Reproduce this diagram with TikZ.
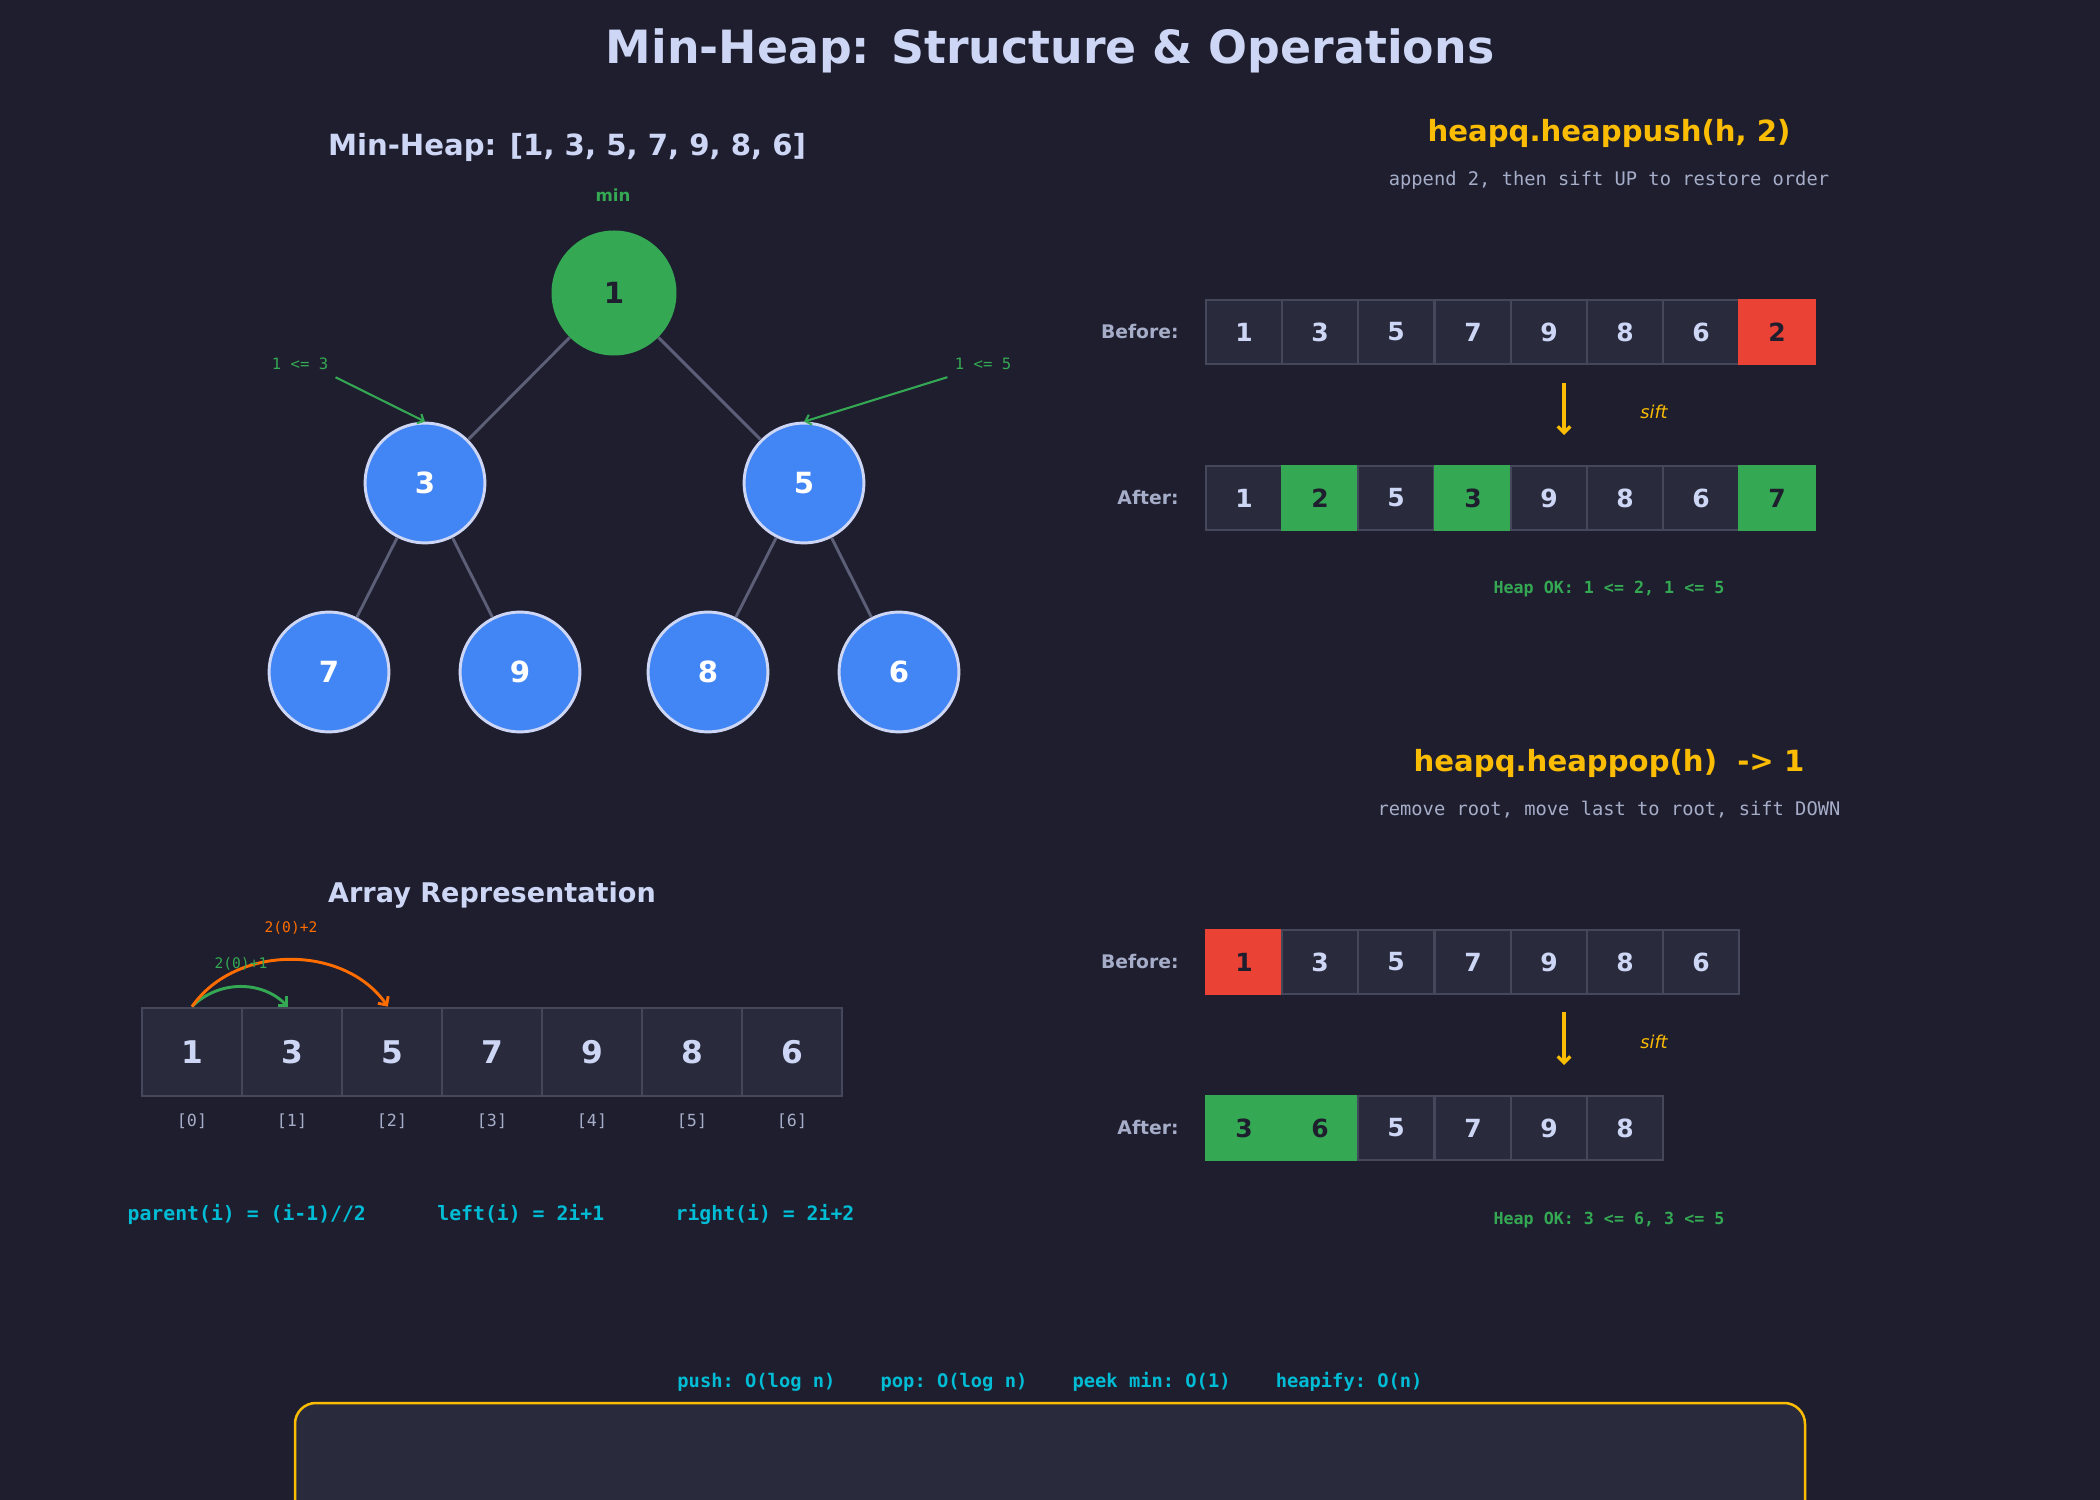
\documentclass[tikz,border=0pt]{standalone}
\usepackage{fontspec}
\setmainfont{DejaVu Sans}
\setmonofont{DejaVu Sans Mono}
\usepackage{tikz}
\usetikzlibrary{arrows.meta}
\definecolor{base}{HTML}{1E1E2E}
\definecolor{panel}{HTML}{292A3C}
\definecolor{rim}{HTML}{45475A}
\definecolor{ink}{HTML}{CDD6F4}
\definecolor{muted}{HTML}{A6ADC8}
\definecolor{wire}{HTML}{5C5F77}
\definecolor{success}{HTML}{34A853}
\definecolor{danger}{HTML}{EA4335}
\definecolor{accent}{HTML}{FBBC04}
\definecolor{info}{HTML}{00BCD4}
\definecolor{heapblue}{HTML}{4285F4}
\definecolor{orange}{HTML}{FF6D00}

\tikzset{
  rootnode/.style={circle, fill=success, minimum size=60pt, inner sep=0pt, text=base, font=\fontsize{14}{17}\selectfont\bfseries},
  heapnode/.style={circle, fill=heapblue, draw=ink, line width=1.4pt, minimum size=57.5pt, inner sep=0pt, text=white, font=\fontsize{14}{17}\selectfont\bfseries},
  treeedge/.style={draw=wire, line width=1.4pt},
  cell/.style={draw=rim, fill=panel, line width=1.1pt, minimum width=48pt, minimum height=42.5pt, inner sep=0pt, text=ink, font=\fontsize{15}{18}\selectfont\bfseries},
  opcell/.style={cell, minimum width=36.5pt, minimum height=30.7pt, font=\fontsize{12}{14}\selectfont\bfseries},
  hilite/.style={fill=success, draw=success, text=base},
  evict/.style={fill=danger, draw=danger, text=base},
  rowlabel/.style={anchor=east, inner sep=0pt, text=muted, font=\fontsize{9}{11}\selectfont\bfseries},
  optitle/.style={text=accent, font=\fontsize{14}{17}\selectfont\bfseries},
  opnote/.style={text=muted, font=\ttfamily\fontsize{9}{11}\selectfont},
  okline/.style={text=success, font=\ttfamily\bfseries\fontsize{8}{10}\selectfont},
  siftarrow/.style={draw=accent, line width=1.6pt, -{Straight Barb[length=3pt, width=6pt]}},
  sifttext/.style={text=accent, font=\itshape\fontsize{8.5}{10}\selectfont},
}

\begin{document}
\begin{tikzpicture}[x=0.48pt, y=-0.48pt]
\fill[base] (0,0) rectangle (2100,1500);
\useasboundingbox (0,0) rectangle (2100,1500);
\clip (0,0) rectangle (2100,1500);
% Title
\node[text=ink, font=\fontsize{22}{26}\selectfont\bfseries] (title) at (1050,51) {Min-Heap: Structure \& Operations};
%
% Tree view
\node[text=ink, font=\fontsize{14}{17}\selectfont\bfseries] (treetitle) at (567,147) {Min-Heap: [1, 3, 5, 7, 9, 8, 6]};
\node[text=success, font=\fontsize{8}{10}\selectfont\bfseries] (minlbl) at (613,195) {min};
\node[rootnode] (n1) at (614,293) {1};
\node[heapnode] (n3) at (425,483) {3};
\node[heapnode] (n5) at (804,483) {5};
\node[heapnode] (n7) at (329,672) {7};
\node[heapnode] (n9) at (520,672) {9};
\node[heapnode] (n8) at (708,672) {8};
\node[heapnode] (n6) at (899,672) {6};
\draw[treeedge] (n1) -- (n3);
\draw[treeedge] (n1) -- (n5);
\draw[treeedge] (n3) -- (n7);
\draw[treeedge] (n3) -- (n9);
\draw[treeedge] (n5) -- (n8);
\draw[treeedge] (n5) -- (n6);
\node[text=success, font=\ttfamily\fontsize{7.5}{9}\selectfont] (cmpl) at (300,364) {1 <= 3};
\node[text=success, font=\ttfamily\fontsize{7.5}{9}\selectfont] (cmpr) at (983,364) {1 <= 5};
\draw[success, line width=1pt, -{Straight Barb[length=2.5pt, width=5pt]}] (cmpl.south east) -- (n3.north);
\draw[success, line width=1pt, -{Straight Barb[length=2.5pt, width=5pt]}] (cmpr.south west) -- (n5.north);
%
% Array view
\node[text=ink, font=\fontsize{13}{16}\selectfont\bfseries] (arrtitle) at (492,895) {Array Representation};
\node[cell] (a0) at (192,1052) {1};
\node[cell] (a1) at (292,1052) {3};
\node[cell] (a2) at (392,1052) {5};
\node[cell] (a3) at (492,1052) {7};
\node[cell] (a4) at (592,1052) {9};
\node[cell] (a5) at (692,1052) {8};
\node[cell] (a6) at (792,1052) {6};
\node[text=muted, font=\ttfamily\fontsize{8}{10}\selectfont] (i0) at (192,1121) {[0]};
\node[text=muted, font=\ttfamily\fontsize{8}{10}\selectfont] (i1) at (292,1121) {[1]};
\node[text=muted, font=\ttfamily\fontsize{8}{10}\selectfont] (i2) at (392,1121) {[2]};
\node[text=muted, font=\ttfamily\fontsize{8}{10}\selectfont] (i3) at (492,1121) {[3]};
\node[text=muted, font=\ttfamily\fontsize{8}{10}\selectfont] (i4) at (592,1121) {[4]};
\node[text=muted, font=\ttfamily\fontsize{8}{10}\selectfont] (i5) at (692,1121) {[5]};
\node[text=muted, font=\ttfamily\fontsize{8}{10}\selectfont] (i6) at (792,1121) {[6]};
\draw[success, line width=1.4pt, -{Straight Barb[length=3pt, width=6pt]}] (a0.north) to[bend left=45] ([xshift=-2pt]a1.north);
\draw[orange, line width=1.4pt, -{Straight Barb[length=3pt, width=6pt]}] (a0.north) to[bend left=55] ([xshift=-2pt]a2.north);
\node[text=success, font=\ttfamily\fontsize{7}{9}\selectfont] (lkid) at (241,964) {2(0)+1};
\node[text=orange, font=\ttfamily\fontsize{7}{9}\selectfont] (rkid) at (291,928) {2(0)+2};
\node[text=info, font=\ttfamily\bfseries\fontsize{9.5}{11}\selectfont] (rules) at (491,1215) {parent(i) = (i-1)//2\hspace{3.61em}left(i) = 2i+1\hspace{3.61em}right(i) = 2i+2};
%
% heappush
\node[optitle] (pushtitle) at (1609,133) {heapq.heappush(h, 2)};
\node[opnote] (pushnote) at (1609,180) {append 2, then sift UP to restore order};
\node[rowlabel] (pushbl) at (1179,332) {Before:};
\node[opcell] (pb0) at (1244,332) {1};
\node[opcell] (pb1) at (1320,332) {3};
\node[opcell] (pb2) at (1396,332) {5};
\node[opcell] (pb3) at (1473,332) {7};
\node[opcell] (pb4) at (1549,332) {9};
\node[opcell] (pb5) at (1625,332) {8};
\node[opcell] (pb6) at (1701,332) {6};
\node[opcell, evict] (pb7) at (1777,332) {2};
\coordinate (ps1) at (1564,383);
\coordinate (ps2) at (1564,435);
\draw[siftarrow] (ps1) -- (ps2);
\node[sifttext] (pushsift) at (1654,412) {sift};
\node[rowlabel] (pushal) at (1179,498) {After:};
\node[opcell] (pa0) at (1244,498) {1};
\node[opcell, hilite] (pa1) at (1320,498) {2};
\node[opcell] (pa2) at (1396,498) {5};
\node[opcell, hilite] (pa3) at (1473,498) {3};
\node[opcell] (pa4) at (1549,498) {9};
\node[opcell] (pa5) at (1625,498) {8};
\node[opcell] (pa6) at (1701,498) {6};
\node[opcell, hilite] (pa7) at (1777,498) {7};
\node[okline] (pushok) at (1609,589) {Heap OK: 1 <= 2, 1 <= 5};
%
% heappop
\node[optitle] (poptitle) at (1609,763) {heapq.heappop(h)\ \ -> 1};
\node[opnote] (popnote) at (1609,810) {remove root, move last to root, sift DOWN};
\node[rowlabel] (popbl) at (1179,962) {Before:};
\node[opcell, evict] (qb0) at (1244,962) {1};
\node[opcell] (qb1) at (1320,962) {3};
\node[opcell] (qb2) at (1396,962) {5};
\node[opcell] (qb3) at (1473,962) {7};
\node[opcell] (qb4) at (1549,962) {9};
\node[opcell] (qb5) at (1625,962) {8};
\node[opcell] (qb6) at (1701,962) {6};
\coordinate (qs1) at (1564,1012);
\coordinate (qs2) at (1564,1065);
\draw[siftarrow] (qs1) -- (qs2);
\node[sifttext] (popsift) at (1654,1042) {sift};
\node[rowlabel] (popal) at (1179,1128) {After:};
\node[opcell, hilite] (qa0) at (1244,1128) {3};
\node[opcell, hilite] (qa1) at (1320,1128) {6};
\node[opcell] (qa2) at (1396,1128) {5};
\node[opcell] (qa3) at (1473,1128) {7};
\node[opcell] (qa4) at (1549,1128) {9};
\node[opcell] (qa5) at (1625,1128) {8};
\node[okline] (popok) at (1609,1220) {Heap OK: 3 <= 6, 3 <= 5};
%
% Complexity
\node[text=info, font=\ttfamily\bfseries\fontsize{9}{11}\selectfont] (cost) at (1050,1382) {push: O(log n)\hspace{2.41em}pop: O(log n)\hspace{2.41em}peek min: O(1)\hspace{2.41em}heapify: O(n)};
\draw[accent, fill=panel, line width=1.2pt, rounded corners=10pt] (295,1403) rectangle (1805,1560);
\end{tikzpicture}
\end{document}
